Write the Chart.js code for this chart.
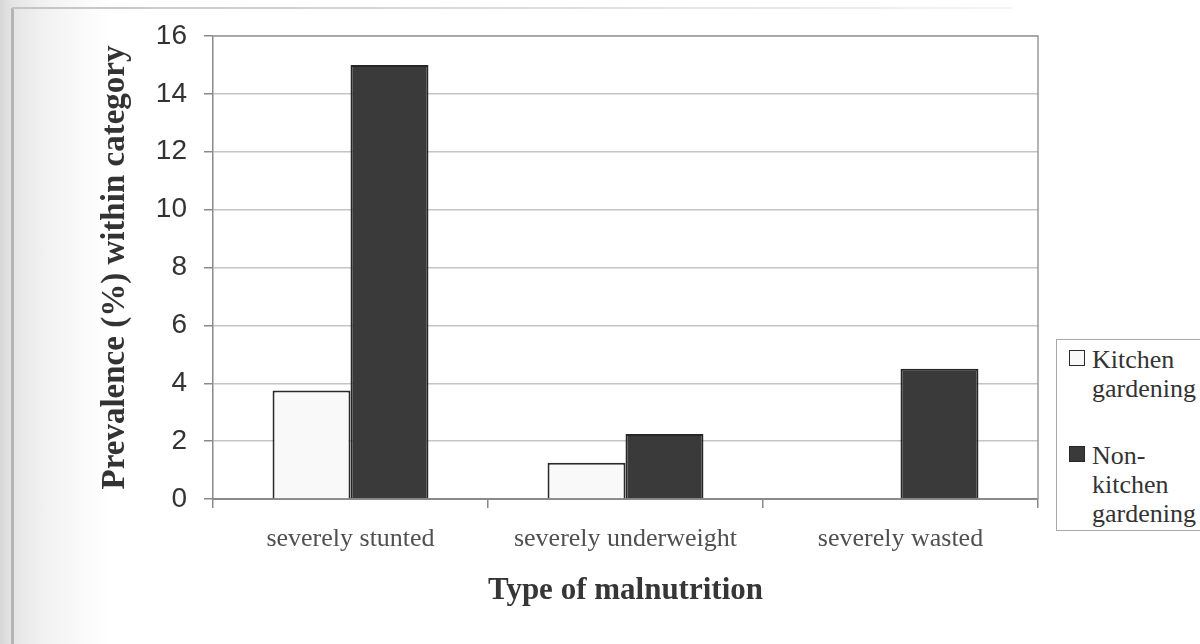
<!DOCTYPE html>
<html>
<head>
<meta charset="utf-8">
<script src="https://cdn.jsdelivr.net/npm/chart.js@4/dist/chart.umd.min.js"></script>
<style>
  html, body { margin: 0; padding: 0; background: #fff; overflow: hidden; }
  #page { position: relative; width: 1200px; height: 644px; overflow: hidden; background: #fff; }
  /* scanned page edge: grey strip and shadow on the left, faint rule on top */
  #edge { position: absolute; left: 0; top: 0; width: 110px; height: 644px;
          background: linear-gradient(to right, rgba(0,0,0,0.16) 0px, rgba(0,0,0,0.10) 12px, rgba(0,0,0,0.05) 45px, rgba(0,0,0,0) 110px); }
  #edgeLine { position: absolute; left: 11px; top: 8px; width: 3px; height: 636px; background: #b5b5b5; }
  #topLine { position: absolute; left: 12px; top: 7px; width: 1000px; height: 2px;
             background: linear-gradient(to right, #c4c4c4, rgba(200,200,200,0.2)); }
  canvas { position: absolute; left: 0; top: 0; }
  #legend { position: absolute; left: 1056px; top: 339px; width: 170px; height: 192px;
            border: 1.5px solid #a8a8a8; box-sizing: border-box; padding-top: 5px; background: #fff;
            font-family: "Liberation Serif", "Times New Roman", serif; font-size: 26px; line-height: 29px; color: #333; }
  .item { display: flex; align-items: flex-start; margin-bottom: 38px; }
  .swatch { width: 16px; height: 16px; margin: 5px 7px 0 12px; flex: none; box-sizing: border-box; }
  .txt { width: 110px; }
</style>
</head>
<body>
<div id="page">
  <div id="edge"></div>
  <div id="edgeLine"></div>
  <div id="topLine"></div>
  <canvas id="chart" width="1200" height="644"></canvas>
  <div id="legend"></div>
</div>
<script>
// Prevalence of severe malnutrition by household gardening practice
const categories = ['severely stunted', 'severely underweight', 'severely wasted'];
const kitchenGardening = [3.75, 1.25, 0];
const nonKitchenGardening = [15.0, 2.25, 4.5];
const yTicks = [0, 2, 4, 6, 8, 10, 12, 14, 16];
const seriesNames = ['Kitchen gardening', 'Non-kitchen gardening'];

const datasets = [
  { label: seriesNames[0], data: kitchenGardening, backgroundColor: '#f9f9f9', borderColor: '#2a2a2a', borderWidth: 2 },
  { label: seriesNames[1], data: nonKitchenGardening, backgroundColor: '#3a3a3a', borderColor: '#262626', borderWidth: 2 }
];

// frame round the plot area (top and right edges)
const frame = {
  id: 'frame',
  afterDraw(chart) {
    const { ctx, chartArea: a } = chart;
    ctx.save();
    ctx.strokeStyle = '#9a9a9a';
    ctx.lineWidth = 1.5;
    ctx.beginPath();
    ctx.moveTo(a.left, a.top);
    ctx.lineTo(a.right, a.top);
    ctx.lineTo(a.right, a.bottom);
    ctx.stroke();
    ctx.restore();
  }
};

const chart = new Chart(document.getElementById('chart'), {
  type: 'bar',
  data: { labels: categories, datasets },
  options: {
    responsive: false,
    animation: false,
    devicePixelRatio: 1,
    layout: { padding: { left: 0, right: 162, top: 36, bottom: 0 } },
    datasets: { bar: { categoryPercentage: 0.567, barPercentage: 1.0 } },
    plugins: { legend: { display: false }, tooltip: { enabled: false } },
    scales: {
      x: {
        grid: { offset: true, drawOnChartArea: false, drawTicks: true, tickLength: 9, color: '#8a8a8a', lineWidth: 1.5 },
        border: { display: true, color: '#8a8a8a', width: 2 },
        ticks: { color: '#505050', padding: 16, maxRotation: 0,
                 font: { family: '"Liberation Serif", "Times New Roman", serif', size: 26 } },
        title: { display: true, text: 'Type of malnutrition', color: '#363636',
                 font: { family: '"Liberation Serif", "Times New Roman", serif', size: 31, weight: 'bold' },
                 padding: { top: 0, bottom: 34 } },
        afterFit(scale) { scale.height = 145; }
      },
      y: {
        min: 0, max: 16,
        afterBuildTicks(scale) { scale.ticks = yTicks.map(v => ({ value: v })); },
        grid: { color: '#c4c4c4', lineWidth: 1.5, drawTicks: true, tickLength: 9, tickColor: '#8a8a8a' },
        border: { display: true, color: '#8a8a8a', width: 1.5 },
        ticks: { color: '#333', padding: 17,
                 font: { family: '"Liberation Sans", Arial, sans-serif', size: 28 } },
        title: { display: true, text: 'Prevalence (%) within category', color: '#333',
                 font: { family: '"Liberation Serif", "Times New Roman", serif', size: 33, weight: 'bold' },
                 padding: { top: 96, bottom: 0 } },
        afterFit(scale) { scale.width = 213; }
      }
    }
  },
  plugins: [frame]
});

// legend with wrapped entries, built from the datasets
const legend = document.getElementById('legend');
datasets.forEach(ds => {
  const item = document.createElement('div');
  item.className = 'item';
  const sw = document.createElement('div');
  sw.className = 'swatch';
  sw.style.background = ds.backgroundColor;
  sw.style.border = '1.5px solid ' + ds.borderColor;
  const t = document.createElement('div');
  t.className = 'txt';
  t.textContent = ds.label;
  item.appendChild(sw);
  item.appendChild(t);
  legend.appendChild(item);
});
</script>
</body>
</html>
